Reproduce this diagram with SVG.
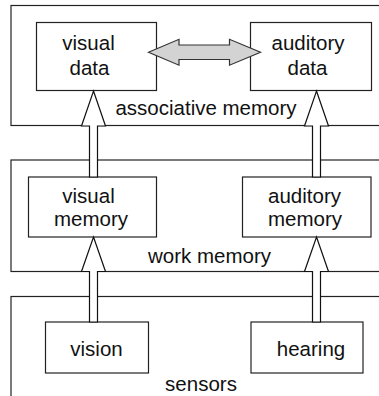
<svg xmlns="http://www.w3.org/2000/svg" width="379" height="396" viewBox="0 0 379 396">
<style>
.layer{fill:#fff;stroke:#222;stroke-width:1.2}
.box{fill:#fff;stroke:#222;stroke-width:1.2}
.t{font-family:"Liberation Sans",Arial,sans-serif;font-size:20.5px;fill:#111;text-anchor:middle}
.up{fill:#fff;stroke:#111;stroke-width:1.2;stroke-linejoin:miter}
.dbl{fill:#d3d3d3;stroke:#333;stroke-width:1.2}
</style>
<rect width="379" height="396" fill="#fff"/>
<g id="associative-memory">
<rect class="layer" x="11" y="5.5" width="380" height="120"/>
<text class="t" x="206" y="115">associative memory</text>
</g>
<g id="work-memory">
<rect class="layer" x="11" y="160" width="380" height="111.5"/>
<text class="t" x="209.5" y="262.5">work memory</text>
</g>
<g id="sensors">
<rect class="layer" x="11" y="296.5" width="380" height="120"/>
<text class="t" x="201" y="390.5">sensors</text>
</g>
<g id="visual-data">
<rect class="box" x="36.5" y="22.5" width="120" height="68"/>
<text class="t" x="88.5" y="50">visual</text>
<text class="t" x="89.5" y="74.5">data</text>
</g>
<g id="auditory-data">
<rect class="box" x="250.5" y="22.5" width="121" height="68"/>
<text class="t" x="308" y="50">auditory</text>
<text class="t" x="307.5" y="74.5">data</text>
</g>
<g id="visual-memory">
<rect class="box" x="28.5" y="177" width="128" height="60"/>
<text class="t" x="88.5" y="203">visual</text>
<text class="t" x="91" y="226">memory</text>
</g>
<g id="auditory-memory">
<rect class="box" x="242.5" y="177" width="128.5" height="60"/>
<text class="t" x="304.5" y="203">auditory</text>
<text class="t" x="305" y="226">memory</text>
</g>
<g id="vision">
<rect class="box" x="45.5" y="322" width="103" height="51"/>
<text class="t" x="96.5" y="356">vision</text>
</g>
<g id="hearing">
<rect class="box" x="251" y="322" width="112" height="51"/>
<text class="t" x="311" y="356">hearing</text>
</g>
<g id="connectors">
<polygon class="up" points="93.5,91 105.5,126 97.5,126 97.5,177 89.5,177 89.5,126 81.5,126"/>
<polygon class="up" points="316.5,91 328.5,126 320.5,126 320.5,177 312.5,177 312.5,126 304.5,126"/>
<polygon class="up" points="93.5,237 105.5,271.5 97.5,271.5 97.5,322 89.5,322 89.5,271.5 81.5,271.5"/>
<polygon class="up" points="316.5,237 328.5,271.5 320.5,271.5 320.5,322 312.5,322 312.5,271.5 304.5,271.5"/>
<polygon class="dbl" points="148.5,52.3 179,39.3 179,45 229.5,45 229.5,39.3 260.5,52.3 229.5,65.2 229.5,59.5 179,59.5 179,65.2"/>
</g>
</svg>
